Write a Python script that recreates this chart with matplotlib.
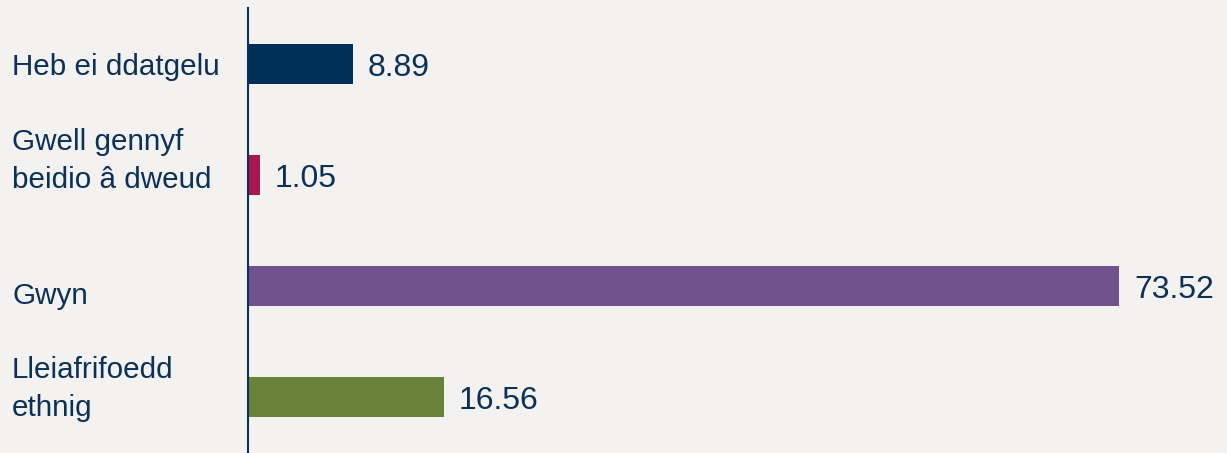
import matplotlib.pyplot as plt
import matplotlib.transforms as mtransforms

categories = ['Heb ei ddatgelu', 'Gwell gennyf\nbeidio â dweud', 'Gwyn', 'Lleiafrifoedd\nethnig']
values = [8.89, 1.05, 73.52, 16.56]
bar_colors = ['#003057', '#a8174f', '#71528f', '#68823a']

# baseline of the last line of each label, px below the bar centre
label_dy = [11, 13, 18, 19]

bg = '#f4f2f0'
navy = '#0b3157'

plt.rcParams['font.family'] = ['Liberation Sans', 'DejaVu Sans']

fig = plt.figure(figsize=(12.27, 4.53), dpi=100, facecolor=bg)
ax = fig.add_axes([247.5 / 1227, 0, 1 - 247.5 / 1227, 1 - 8 / 453])
ax.set_facecolor(bg)

pos = list(range(len(categories)))
ax.barh(pos, values, height=0.36, color=bar_colors)

ax.set_xlim(0, 82.6)
ax.set_ylim(3.5, -0.5)

for s in ['top', 'right', 'bottom']:
    ax.spines[s].set_visible(False)
ax.spines['left'].set_color(navy)
ax.spines['left'].set_linewidth(1.5)
ax.set_xticks([])
ax.set_yticks([])

# category labels, left aligned at the figure edge
trans = mtransforms.blended_transform_factory(fig.transFigure, ax.transData)
for p, c, dy in zip(pos, categories, label_dy):
    t = trans + mtransforms.ScaledTranslation(0, -dy / 100, fig.dpi_scale_trans)
    ax.text(12 / 1227, p, c, transform=t, ha='left', va='baseline',
            fontsize=21.3, color=navy, linespacing=1.47)

# value labels
for p, v in zip(pos, values):
    ax.annotate(f'{v:.2f}', (v, p), xytext=(10.5, -12 * 0.72), textcoords='offset points',
                ha='left', va='baseline', fontsize=23, color=navy)

fig.savefig('out.png', dpi=100, facecolor=bg)
